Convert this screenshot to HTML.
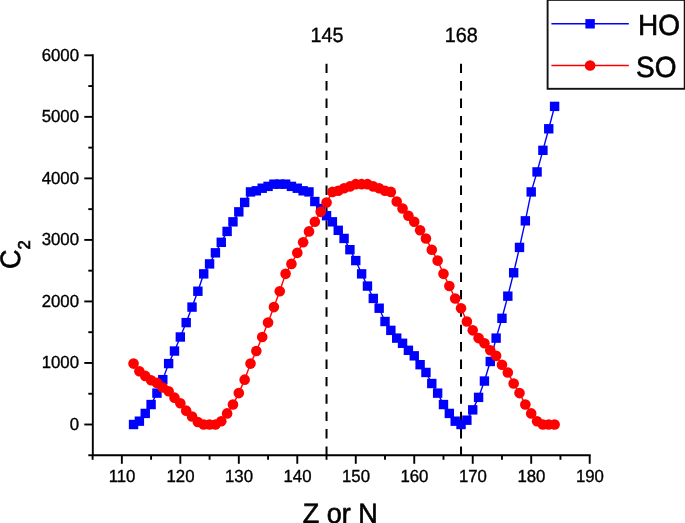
<!DOCTYPE html>
<html><head><meta charset="utf-8"><title>C2 vs Z or N</title>
<style>html,body{margin:0;padding:0;background:#fff}svg{display:block}text{font-family:"Liberation Sans",Arial,sans-serif;fill:#000;stroke:#000;stroke-width:0.35px;text-rendering:geometricPrecision}</style></head><body>
<svg width="685" height="523" viewBox="0 0 685 523">
<rect width="685" height="523" fill="#fff"/>
<line x1="326.53" y1="63.7" x2="326.53" y2="455.3" stroke="#000" stroke-width="2" stroke-dasharray="9.4 8"/>
<line x1="461.03" y1="63.7" x2="461.03" y2="455.3" stroke="#000" stroke-width="2" stroke-dasharray="9.4 8"/>
<g stroke="#000" stroke-width="1.9" fill="none">
<path d="M92.8 54.32V455.3H590.69"/>
<path d="M88.3 455.26H92.8"/>
<path d="M84.3 424.5H92.8"/>
<path d="M88.3 393.74H92.8"/>
<path d="M84.3 362.97H92.8"/>
<path d="M88.3 332.2H92.8"/>
<path d="M84.3 301.44H92.8"/>
<path d="M88.3 270.67H92.8"/>
<path d="M84.3 239.91H92.8"/>
<path d="M88.3 209.14H92.8"/>
<path d="M84.3 178.38H92.8"/>
<path d="M88.3 147.62H92.8"/>
<path d="M84.3 116.85H92.8"/>
<path d="M88.3 86.08H92.8"/>
<path d="M84.3 55.32H92.8"/>
<path d="M92.61 455.3V459.8"/>
<path d="M121.85 455.3V463.8"/>
<path d="M151.09 455.3V459.8"/>
<path d="M180.33 455.3V463.8"/>
<path d="M209.57 455.3V459.8"/>
<path d="M238.81 455.3V463.8"/>
<path d="M268.05 455.3V459.8"/>
<path d="M297.29 455.3V463.8"/>
<path d="M326.53 455.3V459.8"/>
<path d="M355.77 455.3V463.8"/>
<path d="M385.01 455.3V459.8"/>
<path d="M414.25 455.3V463.8"/>
<path d="M443.49 455.3V459.8"/>
<path d="M472.73 455.3V463.8"/>
<path d="M501.97 455.3V459.8"/>
<path d="M531.21 455.3V463.8"/>
<path d="M560.45 455.3V459.8"/>
<path d="M589.69 455.3V463.8"/>
</g>
<text transform="translate(79 430) scale(1 1.04)" font-size="16.8px" text-anchor="end">0</text>
<text transform="translate(79 368) scale(1 1.04)" font-size="16.8px" text-anchor="end">1000</text>
<text transform="translate(79 307) scale(1 1.04)" font-size="16.8px" text-anchor="end">2000</text>
<text transform="translate(79 245) scale(1 1.04)" font-size="16.8px" text-anchor="end">3000</text>
<text transform="translate(79 184) scale(1 1.04)" font-size="16.8px" text-anchor="end">4000</text>
<text transform="translate(79 122) scale(1 1.04)" font-size="16.8px" text-anchor="end">5000</text>
<text transform="translate(79 61) scale(1 1.04)" font-size="16.8px" text-anchor="end">6000</text>
<text transform="translate(122.05 482) scale(1 1.04)" font-size="16.8px" text-anchor="middle">110</text>
<text transform="translate(180.53 482) scale(1 1.04)" font-size="16.8px" text-anchor="middle">120</text>
<text transform="translate(239.01 482) scale(1 1.04)" font-size="16.8px" text-anchor="middle">130</text>
<text transform="translate(297.49 482) scale(1 1.04)" font-size="16.8px" text-anchor="middle">140</text>
<text transform="translate(355.97 482) scale(1 1.04)" font-size="16.8px" text-anchor="middle">150</text>
<text transform="translate(414.45 482) scale(1 1.04)" font-size="16.8px" text-anchor="middle">160</text>
<text transform="translate(472.93 482) scale(1 1.04)" font-size="16.8px" text-anchor="middle">170</text>
<text transform="translate(531.41 482) scale(1 1.04)" font-size="16.8px" text-anchor="middle">180</text>
<text transform="translate(589.89 482) scale(1 1.04)" font-size="16.8px" text-anchor="middle">190</text>
<text transform="translate(326.93 42) scale(1 1.04)" font-size="19.8px" text-anchor="middle">145</text>
<text transform="translate(461.23 42) scale(1 1.04)" font-size="19.8px" text-anchor="middle">168</text>
<text style="stroke-width:0.6px" transform="translate(340.3 523) scale(1 1.04)" font-size="27px" text-anchor="middle">Z or N</text>
<text style="stroke-width:0.6px" transform="translate(20.3 269) rotate(-90) scale(1 1.04)" font-size="27px" text-anchor="start">C<tspan font-size="16.5px" dy="9.5">2</tspan></text>
<polyline points="133.55,424.5 139.39,421.18 145.24,413.42 151.09,404.56 156.94,393.12 162.79,379.64 168.63,363.59 174.48,351.03 180.33,337 186.18,322.61 192.03,307.1 197.87,291.23 203.72,273.87 209.57,263.91 215.42,252.83 221.27,242.31 227.11,231.42 232.96,221.82 238.81,211.85 244.66,202.44 250.51,191.92 256.35,190.81 262.2,188.22 268.05,186.38 273.9,184.16 279.75,184.16 285.59,184.16 291.44,186.38 297.29,188.22 303.14,190.81 308.99,191.92 314.83,201.52 320.68,208.53 326.53,215.73 332.38,221.82 338.23,230.31 344.07,238.43 349.92,249.69 355.77,260.58 361.62,273.87 367.47,286.06 373.31,298.43 379.16,308.21 385.01,321.5 390.86,330.36 396.71,338.11 402.55,343.28 408.4,350.29 414.25,355.83 420.1,364.69 425.95,372.45 431.79,383.52 437.64,393.12 443.49,404.56 449.34,413.42 455.19,421.18 461.03,424.5 466.88,420.19 472.73,409.86 478.58,397.37 484.43,381.06 490.27,361.49 496.12,338.11 501.97,318.3 507.82,296.15 513.67,272.77 519.51,247.42 525.36,220.84 531.21,191.92 537.06,171.92 542.91,150.32 548.75,128.79 554.6,106.39" fill="none" stroke="#00f" stroke-width="1.4"/>
<g fill="#00f">
<rect x="128.85" y="419.8" width="9.4" height="9.4"/>
<rect x="134.69" y="416.48" width="9.4" height="9.4"/>
<rect x="140.54" y="408.72" width="9.4" height="9.4"/>
<rect x="146.39" y="399.86" width="9.4" height="9.4"/>
<rect x="152.24" y="388.42" width="9.4" height="9.4"/>
<rect x="158.09" y="374.94" width="9.4" height="9.4"/>
<rect x="163.93" y="358.89" width="9.4" height="9.4"/>
<rect x="169.78" y="346.33" width="9.4" height="9.4"/>
<rect x="175.63" y="332.3" width="9.4" height="9.4"/>
<rect x="181.48" y="317.91" width="9.4" height="9.4"/>
<rect x="187.33" y="302.4" width="9.4" height="9.4"/>
<rect x="193.17" y="286.53" width="9.4" height="9.4"/>
<rect x="199.02" y="269.17" width="9.4" height="9.4"/>
<rect x="204.87" y="259.21" width="9.4" height="9.4"/>
<rect x="210.72" y="248.13" width="9.4" height="9.4"/>
<rect x="216.57" y="237.61" width="9.4" height="9.4"/>
<rect x="222.41" y="226.72" width="9.4" height="9.4"/>
<rect x="228.26" y="217.12" width="9.4" height="9.4"/>
<rect x="234.11" y="207.15" width="9.4" height="9.4"/>
<rect x="239.96" y="197.74" width="9.4" height="9.4"/>
<rect x="245.81" y="187.22" width="9.4" height="9.4"/>
<rect x="251.65" y="186.11" width="9.4" height="9.4"/>
<rect x="257.5" y="183.52" width="9.4" height="9.4"/>
<rect x="263.35" y="181.68" width="9.4" height="9.4"/>
<rect x="269.2" y="179.46" width="9.4" height="9.4"/>
<rect x="275.05" y="179.46" width="9.4" height="9.4"/>
<rect x="280.89" y="179.46" width="9.4" height="9.4"/>
<rect x="286.74" y="181.68" width="9.4" height="9.4"/>
<rect x="292.59" y="183.52" width="9.4" height="9.4"/>
<rect x="298.44" y="186.11" width="9.4" height="9.4"/>
<rect x="304.29" y="187.22" width="9.4" height="9.4"/>
<rect x="310.13" y="196.82" width="9.4" height="9.4"/>
<rect x="315.98" y="203.83" width="9.4" height="9.4"/>
<rect x="321.83" y="211.03" width="9.4" height="9.4"/>
<rect x="327.68" y="217.12" width="9.4" height="9.4"/>
<rect x="333.53" y="225.61" width="9.4" height="9.4"/>
<rect x="339.37" y="233.73" width="9.4" height="9.4"/>
<rect x="345.22" y="244.99" width="9.4" height="9.4"/>
<rect x="351.07" y="255.88" width="9.4" height="9.4"/>
<rect x="356.92" y="269.17" width="9.4" height="9.4"/>
<rect x="362.77" y="281.36" width="9.4" height="9.4"/>
<rect x="368.61" y="293.73" width="9.4" height="9.4"/>
<rect x="374.46" y="303.51" width="9.4" height="9.4"/>
<rect x="380.31" y="316.8" width="9.4" height="9.4"/>
<rect x="386.16" y="325.66" width="9.4" height="9.4"/>
<rect x="392.01" y="333.41" width="9.4" height="9.4"/>
<rect x="397.85" y="338.58" width="9.4" height="9.4"/>
<rect x="403.7" y="345.59" width="9.4" height="9.4"/>
<rect x="409.55" y="351.13" width="9.4" height="9.4"/>
<rect x="415.4" y="359.99" width="9.4" height="9.4"/>
<rect x="421.25" y="367.75" width="9.4" height="9.4"/>
<rect x="427.09" y="378.82" width="9.4" height="9.4"/>
<rect x="432.94" y="388.42" width="9.4" height="9.4"/>
<rect x="438.79" y="399.86" width="9.4" height="9.4"/>
<rect x="444.64" y="408.72" width="9.4" height="9.4"/>
<rect x="450.49" y="416.48" width="9.4" height="9.4"/>
<rect x="456.33" y="419.8" width="9.4" height="9.4"/>
<rect x="462.18" y="415.49" width="9.4" height="9.4"/>
<rect x="468.03" y="405.16" width="9.4" height="9.4"/>
<rect x="473.88" y="392.67" width="9.4" height="9.4"/>
<rect x="479.73" y="376.36" width="9.4" height="9.4"/>
<rect x="485.57" y="356.79" width="9.4" height="9.4"/>
<rect x="491.42" y="333.41" width="9.4" height="9.4"/>
<rect x="497.27" y="313.6" width="9.4" height="9.4"/>
<rect x="503.12" y="291.45" width="9.4" height="9.4"/>
<rect x="508.97" y="268.07" width="9.4" height="9.4"/>
<rect x="514.81" y="242.72" width="9.4" height="9.4"/>
<rect x="520.66" y="216.14" width="9.4" height="9.4"/>
<rect x="526.51" y="187.22" width="9.4" height="9.4"/>
<rect x="532.36" y="167.22" width="9.4" height="9.4"/>
<rect x="538.21" y="145.62" width="9.4" height="9.4"/>
<rect x="544.05" y="124.09" width="9.4" height="9.4"/>
<rect x="549.9" y="101.69" width="9.4" height="9.4"/>
</g>
<polyline points="133.55,363.59 139.39,371.28 145.24,375.89 151.09,380.2 156.94,382.91 162.79,387.52 168.63,391.27 174.48,397.67 180.33,403.21 186.18,410.66 192.03,416.5 197.87,422.04 203.72,424.5 209.57,424.5 215.42,424.5 221.27,421.18 227.11,413.42 232.96,404.56 238.81,393.12 244.66,379.64 250.51,363.59 256.35,351.03 262.2,337 268.05,322.61 273.9,307.1 279.75,291.23 285.59,273.87 291.44,263.91 297.29,252.83 303.14,242.31 308.99,231.42 314.83,221.82 320.68,211.85 326.53,202.44 332.38,191.92 338.23,190.81 344.07,188.22 349.92,186.38 355.77,184.16 361.62,184.16 367.47,184.16 373.31,186.38 379.16,188.22 385.01,190.81 390.86,191.92 396.71,201.52 402.55,208.53 408.4,215.73 414.25,221.82 420.1,230.31 425.95,238.43 431.79,249.69 437.64,260.58 443.49,273.87 449.34,286.06 455.19,298.43 461.03,308.21 466.88,321.5 472.73,330.36 478.58,338.11 484.43,343.28 490.27,350.29 496.12,355.83 501.97,364.69 507.82,372.45 513.67,383.52 519.51,393.12 525.36,404.56 531.21,413.42 537.06,421.18 542.91,424.5 548.75,424.5 554.6,424.5" fill="none" stroke="#f00" stroke-width="1.4"/>
<g fill="#f00">
<circle cx="133.55" cy="363.59" r="5.3"/>
<circle cx="139.39" cy="371.28" r="5.3"/>
<circle cx="145.24" cy="375.89" r="5.3"/>
<circle cx="151.09" cy="380.2" r="5.3"/>
<circle cx="156.94" cy="382.91" r="5.3"/>
<circle cx="162.79" cy="387.52" r="5.3"/>
<circle cx="168.63" cy="391.27" r="5.3"/>
<circle cx="174.48" cy="397.67" r="5.3"/>
<circle cx="180.33" cy="403.21" r="5.3"/>
<circle cx="186.18" cy="410.66" r="5.3"/>
<circle cx="192.03" cy="416.5" r="5.3"/>
<circle cx="197.87" cy="422.04" r="5.3"/>
<circle cx="203.72" cy="424.5" r="5.3"/>
<circle cx="209.57" cy="424.5" r="5.3"/>
<circle cx="215.42" cy="424.5" r="5.3"/>
<circle cx="221.27" cy="421.18" r="5.3"/>
<circle cx="227.11" cy="413.42" r="5.3"/>
<circle cx="232.96" cy="404.56" r="5.3"/>
<circle cx="238.81" cy="393.12" r="5.3"/>
<circle cx="244.66" cy="379.64" r="5.3"/>
<circle cx="250.51" cy="363.59" r="5.3"/>
<circle cx="256.35" cy="351.03" r="5.3"/>
<circle cx="262.2" cy="337" r="5.3"/>
<circle cx="268.05" cy="322.61" r="5.3"/>
<circle cx="273.9" cy="307.1" r="5.3"/>
<circle cx="279.75" cy="291.23" r="5.3"/>
<circle cx="285.59" cy="273.87" r="5.3"/>
<circle cx="291.44" cy="263.91" r="5.3"/>
<circle cx="297.29" cy="252.83" r="5.3"/>
<circle cx="303.14" cy="242.31" r="5.3"/>
<circle cx="308.99" cy="231.42" r="5.3"/>
<circle cx="314.83" cy="221.82" r="5.3"/>
<circle cx="320.68" cy="211.85" r="5.3"/>
<circle cx="326.53" cy="202.44" r="5.3"/>
<circle cx="332.38" cy="191.92" r="5.3"/>
<circle cx="338.23" cy="190.81" r="5.3"/>
<circle cx="344.07" cy="188.22" r="5.3"/>
<circle cx="349.92" cy="186.38" r="5.3"/>
<circle cx="355.77" cy="184.16" r="5.3"/>
<circle cx="361.62" cy="184.16" r="5.3"/>
<circle cx="367.47" cy="184.16" r="5.3"/>
<circle cx="373.31" cy="186.38" r="5.3"/>
<circle cx="379.16" cy="188.22" r="5.3"/>
<circle cx="385.01" cy="190.81" r="5.3"/>
<circle cx="390.86" cy="191.92" r="5.3"/>
<circle cx="396.71" cy="201.52" r="5.3"/>
<circle cx="402.55" cy="208.53" r="5.3"/>
<circle cx="408.4" cy="215.73" r="5.3"/>
<circle cx="414.25" cy="221.82" r="5.3"/>
<circle cx="420.1" cy="230.31" r="5.3"/>
<circle cx="425.95" cy="238.43" r="5.3"/>
<circle cx="431.79" cy="249.69" r="5.3"/>
<circle cx="437.64" cy="260.58" r="5.3"/>
<circle cx="443.49" cy="273.87" r="5.3"/>
<circle cx="449.34" cy="286.06" r="5.3"/>
<circle cx="455.19" cy="298.43" r="5.3"/>
<circle cx="461.03" cy="308.21" r="5.3"/>
<circle cx="466.88" cy="321.5" r="5.3"/>
<circle cx="472.73" cy="330.36" r="5.3"/>
<circle cx="478.58" cy="338.11" r="5.3"/>
<circle cx="484.43" cy="343.28" r="5.3"/>
<circle cx="490.27" cy="350.29" r="5.3"/>
<circle cx="496.12" cy="355.83" r="5.3"/>
<circle cx="501.97" cy="364.69" r="5.3"/>
<circle cx="507.82" cy="372.45" r="5.3"/>
<circle cx="513.67" cy="383.52" r="5.3"/>
<circle cx="519.51" cy="393.12" r="5.3"/>
<circle cx="525.36" cy="404.56" r="5.3"/>
<circle cx="531.21" cy="413.42" r="5.3"/>
<circle cx="537.06" cy="421.18" r="5.3"/>
<circle cx="542.91" cy="424.5" r="5.3"/>
<circle cx="548.75" cy="424.5" r="5.3"/>
<circle cx="554.6" cy="424.5" r="5.3"/>
</g>
<rect x="547.6" y="-0.1" width="137.1" height="88.9" fill="#fff" stroke="#111" stroke-width="1.9"/>
<line x1="551.4" y1="23.7" x2="628.8" y2="23.7" stroke="#00f" stroke-width="1.4"/>
<rect x="585.4" y="19.1" width="9.4" height="9.4" fill="#00f"/>
<line x1="551.4" y1="65.5" x2="628.8" y2="65.5" stroke="#f00" stroke-width="1.4"/>
<circle cx="590.1" cy="65.5" r="5.3" fill="#f00"/>
<text style="stroke-width:0.6px" transform="translate(638 35) scale(1 1.04)" font-size="28px" text-anchor="start">HO</text>
<text style="stroke-width:0.6px" transform="translate(636 77) scale(1 1.04)" font-size="28px" text-anchor="start">SO</text>
</svg></body></html>
